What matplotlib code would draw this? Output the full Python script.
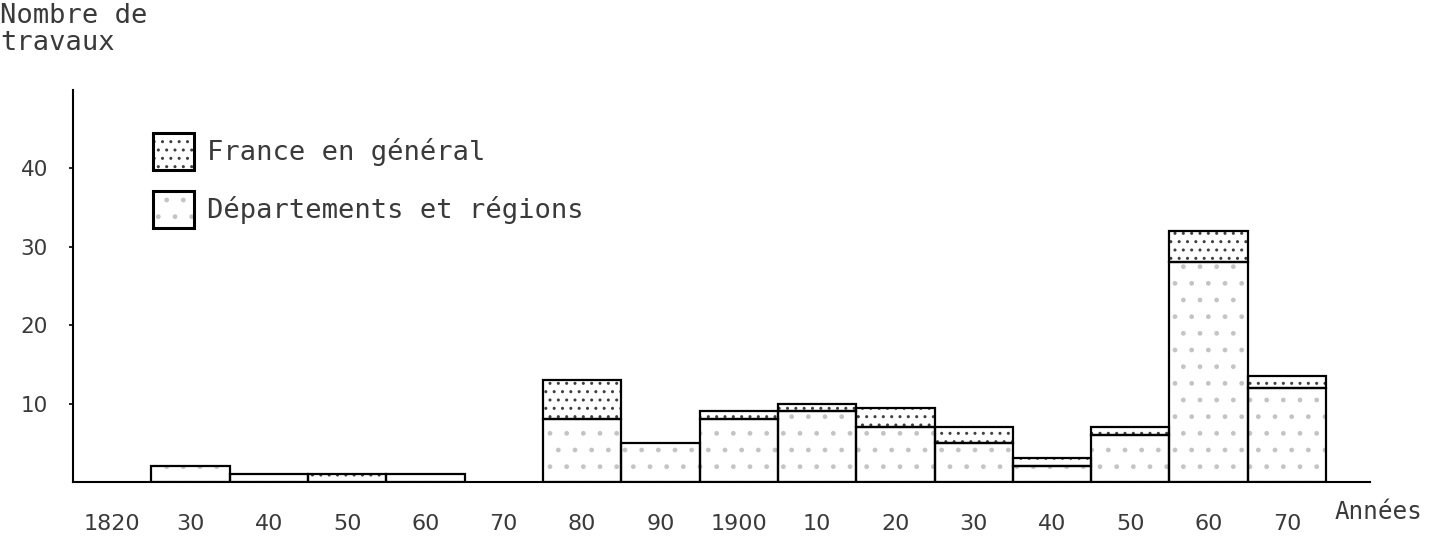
import matplotlib.pyplot as plt
import numpy as np
from matplotlib.legend_handler import HandlerTuple
import matplotlib.patches as mpatches

# decades 1820 -> 1970, number of works per decade
decades = [1820, 1830, 1840, 1850, 1860, 1870, 1880, 1890,
           1900, 1910, 1920, 1930, 1940, 1950, 1960, 1970]
tick_labels = ["1820", "30", "40", "50", "60", "70", "80", "90",
               "1900", "10", "20", "30", "40", "50", "60", "70"]
departements = [0, 2, 1, 0, 1, 0, 8, 5, 8, 9, 7, 5, 2, 6, 28, 12]
france = [0, 0, 0, 1, 0, 0, 5, 0, 1, 1, 2.5, 2, 1, 1, 4, 1.5]

plt.rcParams['hatch.linewidth'] = 1.0
mono = "DejaVu Sans Mono"
txt_col = "#3a3a3a"
dep_hatch_col = "#c4c4c4"
fr_hatch_col = "#404040"

fig = plt.figure(figsize=(14.39, 5.39), dpi=100)
ax = fig.add_axes([73 / 1439, 57 / 539, 1297 / 1439, 392 / 539])

x = np.arange(len(decades))
dep = np.array(departements, dtype=float)
fr = np.array(france, dtype=float)

# hatch layers (hatch colour follows edgecolor), then black outlines
ax.bar(x, dep, width=1, align='edge', color='white', edgecolor=dep_hatch_col,
       hatch='.', linewidth=0)
ax.bar(x, fr, width=1, align='edge', bottom=dep, color='white',
       edgecolor=fr_hatch_col, hatch='..', linewidth=0)
m = dep > 0
ax.bar(x[m], dep[m], width=1, align='edge', fill=False,
       edgecolor='black', linewidth=1.6)
m = fr > 0
ax.bar(x[m], fr[m], width=1, align='edge', bottom=dep[m], fill=False,
       edgecolor='black', linewidth=1.6)

ax.set_xlim(0, 16.56)
ax.set_ylim(0, 50)
ax.spines[['top', 'right']].set_visible(False)
for s in ['left', 'bottom']:
    ax.spines[s].set_linewidth(1.5)
ax.set_yticks([10, 20, 30, 40])
ax.tick_params(axis='y', length=3, width=1.2, pad=15, labelsize=15.5,
               labelcolor=txt_col)
ax.set_xticks(x + 0.5)
ax.set_xticklabels(tick_labels)
ax.tick_params(axis='x', length=0, pad=23, labelsize=16, labelcolor=txt_col)

# legend
h_fr = (mpatches.Patch(facecolor='white', edgecolor=fr_hatch_col, hatch='..', linewidth=0),
        mpatches.Patch(fill=False, edgecolor='black', linewidth=2.2))
h_dep = (mpatches.Patch(facecolor='white', edgecolor=dep_hatch_col, hatch='.', linewidth=0),
         mpatches.Patch(fill=False, edgecolor='black', linewidth=2.2))
leg = ax.legend([h_fr, h_dep], ["France en général", "Départements et régions"],
                handler_map={tuple: HandlerTuple(ndivide=1)},
                loc='upper left', bbox_to_anchor=(153 / 1439, 1 - 133 / 539),
                bbox_transform=fig.transFigure, frameon=False, borderpad=0,
                borderaxespad=0, handlelength=1.5, handleheight=1.75,
                handletextpad=0.5, labelspacing=0.75,
                prop={'family': mono, 'size': 19.5})
for t in leg.get_texts():
    t.set_color(txt_col)

fig.text(0.0, 1 - 16 / 539, "Nombre de", family=mono, size=19.5, color=txt_col,
         ha='left', va='center')
fig.text(0.0, 1 - 43 / 539, "travaux", family=mono, size=19.5, color=txt_col,
         ha='left', va='center')
fig.text(1378 / 1439, 1 - 512 / 539, "Années", family=mono, size=17.5,
         color=txt_col, ha='center', va='center')

fig.savefig("out.png", dpi=100)
